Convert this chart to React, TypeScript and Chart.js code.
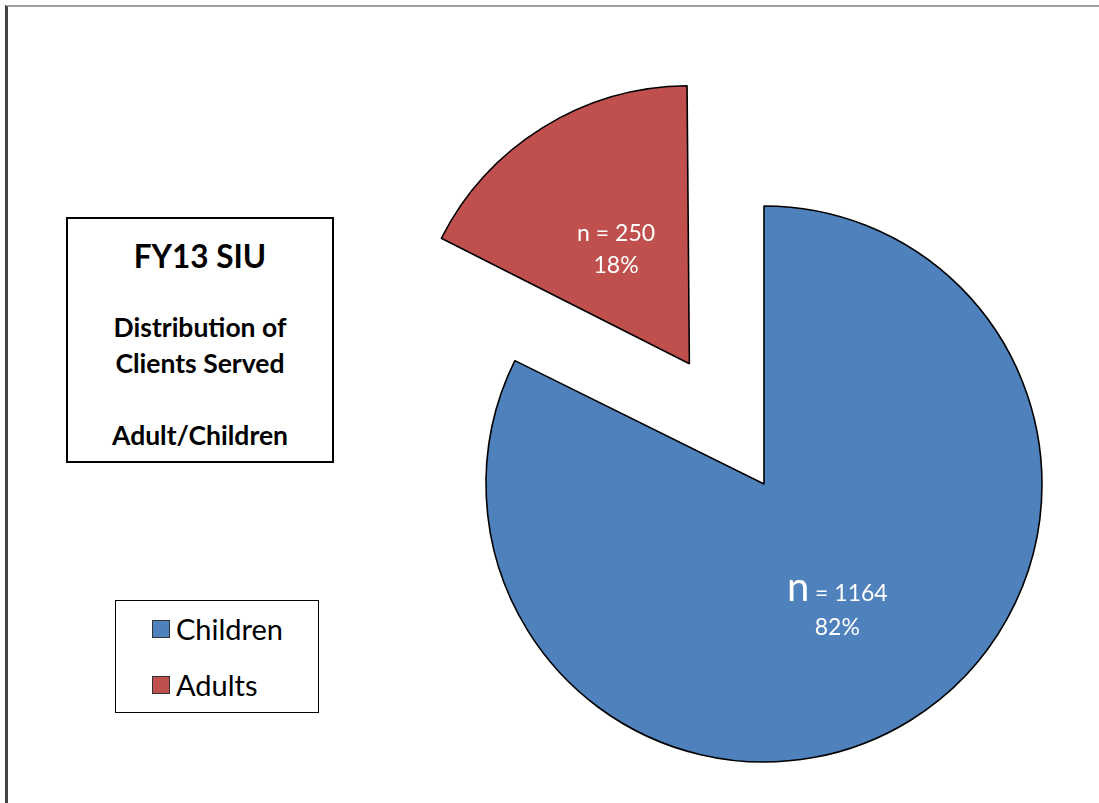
import React, { useEffect, useRef } from 'react';
import { Chart, registerables } from 'chart.js';

Chart.register(...registerables);

const categories = ['Children', 'Adults'];
const counts = [1164, 250];
const percentLabels = ['82%', '18%'];
const sliceColors = ['#4F81BD', '#C0504D'];
const explodeOffsets = [0, 566];
const titleLines = ['FY13 SIU', 'Distribution of', 'Clients Served', 'Adult/Children'];

const PIE_RADIUS = 278;
const FONT = 'Lato, "Open Sans", sans-serif';

const radiusFixPlugin = {
  id: 'radiusFix',
  afterDatasetUpdate(chart: any, args: any) {
    const meta = chart.getDatasetMeta(args.index);
    meta.data.forEach((el: any) => {
      const off = ((el.options && el.options.offset) || 0) / 4;
      const fix = 1 - Math.sin(Math.min(Math.PI, el.circumference || 0));
      el.outerRadius = PIE_RADIUS - off * fix;
    });
  },
};

const sliceLabelPlugin = {
  id: 'sliceLabels',
  afterDatasetsDraw(chart: any) {
    const ctx = chart.ctx;
    const meta = chart.getDatasetMeta(0);
    meta.data.forEach((el: any, i: number) => {
      const mid = (el.startAngle + el.endAngle) / 2;
      const shift = ((el.options && el.options.offset) || 0) / 4;
      const d = shift + PIE_RADIUS * 0.5;
      const cx = el.x + Math.cos(mid) * d;
      const cy = el.y + Math.sin(mid) * d;
      ctx.save();
      ctx.fillStyle = '#FFFFFF';
      ctx.textBaseline = 'alphabetic';
      const big = i === 0;
      const nFont = `${big ? 40 : 23}px ${FONT}`;
      const restFont = `23px ${FONT}`;
      const rest = ` = ${counts[i]}`;
      ctx.font = nFont;
      const wN = ctx.measureText('n').width;
      ctx.font = restFont;
      const wR = ctx.measureText(rest).width;
      const line1Base = big ? cy - 1 : cy - 5;
      const x0 = cx - (wN + wR) / 2;
      ctx.textAlign = 'left';
      ctx.font = nFont;
      ctx.fillText('n', x0, line1Base);
      ctx.font = restFont;
      ctx.fillText(rest, x0 + wN, line1Base);
      ctx.textAlign = 'center';
      ctx.fillText(percentLabels[i], cx, big ? cy + 33 : cy + 27);
      ctx.restore();
    });
  },
};

function PieChart() {
  const ref = useRef<HTMLCanvasElement | null>(null);
  useEffect(() => {
    if (!ref.current) return;
    const chart = new Chart(ref.current, {
      type: 'pie',
      data: {
        labels: categories,
        datasets: [
          {
            data: counts,
            backgroundColor: sliceColors,
            borderColor: '#000000',
            borderWidth: 1.6,
            offset: explodeOffsets,
            clip: false,
          } as any,
        ],
      },
      options: {
        animation: false,
        responsive: false,
        radius: PIE_RADIUS,
        layout: { padding: { left: 429, top: 165, right: 0, bottom: 0 } },
        plugins: {
          legend: { display: false },
          tooltip: { enabled: false },
          title: { display: false },
        },
        events: [],
      } as any,
      plugins: [radiusFixPlugin, sliceLabelPlugin],
    });
    return () => chart.destroy();
  }, []);
  return (
    <canvas
      ref={ref}
      width={1099}
      height={803}
      style={{ position: 'absolute', left: 0, top: 0, width: 1099, height: 803 }}
    />
  );
}

function Line({ text, y, size, bold }: { text: string; y: number; size: number; bold?: boolean }) {
  const h = size * 1.4;
  return (
    <div
      style={{
        position: 'absolute',
        left: 0,
        right: 0,
        top: y - h / 2,
        height: h,
        lineHeight: `${h}px`,
        textAlign: 'center',
        fontSize: size,
        fontWeight: bold ? 700 : 400,
        whiteSpace: 'nowrap',
      }}
    >
      {text}
    </div>
  );
}

export default function App() {
  const titleYs = [256 - 217, 328 - 217, 364 - 217, 436 - 217];
  const titleSizes = [31.5, 26.5, 26.5, 26.5];
  const legendYs = [628 - 600, 684 - 600];
  return (
    <div
      style={{
        position: 'absolute',
        left: 0,
        top: 0,
        width: 1099,
        height: 803,
        overflow: 'hidden',
        background: '#FFFFFF',
        fontFamily: FONT,
        color: '#000000',
      }}
    >
      <div
        style={{
          position: 'absolute',
          left: 5,
          top: 5,
          width: 1300,
          height: 1000,
          borderTop: '2px solid #A0A0A0',
          borderLeft: '3px solid #444444',
        }}
      />
      <PieChart />
      <div
        style={{
          position: 'absolute',
          left: 66,
          top: 217,
          width: 268,
          height: 246,
          boxSizing: 'border-box',
          border: '2px solid #000000',
          background: '#FFFFFF',
        }}
      >
        {titleLines.map((t, i) => (
          <Line key={t} text={t} y={titleYs[i] - 2} size={titleSizes[i]} bold />
        ))}
      </div>
      <div
        style={{
          position: 'absolute',
          left: 115,
          top: 600,
          width: 204,
          height: 113,
          boxSizing: 'border-box',
          border: '1.5px solid #000000',
          background: '#FFFFFF',
        }}
      >
        {categories.map((c, i) => (
          <div
            key={c}
            style={{
              position: 'absolute',
              left: 36,
              top: legendYs[i] - 16,
              height: 32,
              display: 'flex',
              alignItems: 'center',
              whiteSpace: 'nowrap',
            }}
          >
            <span
              style={{
                display: 'inline-block',
                width: 18,
                height: 18,
                boxSizing: 'border-box',
                background: sliceColors[i],
                border: '1px solid #333333',
                marginRight: 6,
              }}
            />
            <span style={{ fontSize: 29, lineHeight: '32px' }}>{c}</span>
          </div>
        ))}
      </div>
    </div>
  );
}
